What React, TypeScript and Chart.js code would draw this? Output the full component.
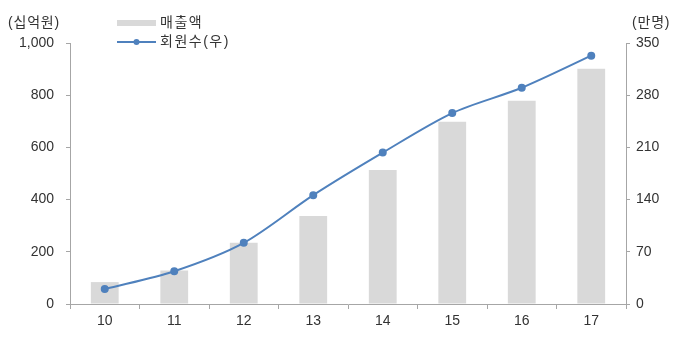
import React, { useEffect, useRef } from "react";
import { Chart, registerables } from "chart.js";

Chart.register(...registerables);

const categories = ["10", "11", "12", "13", "14", "15", "16", "17"];
const salesValues = [84, 128, 235, 337, 513, 698, 779, 901];
const memberValues = [20, 44, 82, 146, 203, 256, 290, 333];
const leftTicks = [0, 200, 400, 600, 800, 1000];
const rightTicks = [0, 70, 140, 210, 280, 350];
const salesLabel = "매출액";
const memberLabel = "회원수(우)";
const leftUnit = "(십억원)";
const rightUnit = "(만명)";

const FONT = "'Liberation Sans', Arial, 'Noto Sans CJK KR', sans-serif";
const BAR_COLOR = "#d9d9d9";
const LINE_COLOR = "#4f81bd";
const TEXT_COLOR = "#333333";
const AXIS_COLOR = "#a6a6a6";

const overlayPlugin = {
  id: "overlay",
  afterDraw(chart: any) {
    const ctx = chart.ctx;
    ctx.save();
    ctx.font = `14px ${FONT}`;
    ctx.fillStyle = TEXT_COLOR;
    ctx.textBaseline = "middle";
    ctx.textAlign = "left";
    ctx.letterSpacing = "0.8px";
    ctx.fillText(leftUnit, 8, 23);
    ctx.fillText(rightUnit, 632, 23);
    // legend
    ctx.fillStyle = BAR_COLOR;
    ctx.fillRect(117, 20, 39, 6);
    ctx.letterSpacing = "1.5px";
    ctx.fillStyle = TEXT_COLOR;
    ctx.fillText(salesLabel, 160, 23);
    ctx.strokeStyle = LINE_COLOR;
    ctx.lineWidth = 2;
    ctx.beginPath();
    ctx.moveTo(117, 42);
    ctx.lineTo(156, 42);
    ctx.stroke();
    ctx.fillStyle = LINE_COLOR;
    ctx.beginPath();
    ctx.arc(136.5, 42, 3, 0, Math.PI * 2);
    ctx.fill();
    ctx.fillStyle = TEXT_COLOR;
    ctx.fillText(memberLabel, 160, 42);
    ctx.restore();
  },
};

export default function App() {
  const ref = useRef<HTMLCanvasElement>(null);
  useEffect(() => {
    document.body.style.margin = "0";
    const chart = new Chart(ref.current!, {
      type: "bar",
      data: {
        labels: categories,
        datasets: [
          {
            type: "line",
            label: memberLabel,
            data: memberValues,
            yAxisID: "y2",
            borderColor: LINE_COLOR,
            backgroundColor: LINE_COLOR,
            borderWidth: 2,
            pointRadius: 3,
            pointHoverRadius: 3,
            tension: 0.3,
            order: 0,
          },
          {
            type: "bar",
            label: salesLabel,
            data: salesValues,
            yAxisID: "y",
            backgroundColor: BAR_COLOR,
            barPercentage: 0.4,
            categoryPercentage: 1,
            order: 1,
          },
        ],
      },
      options: {
        responsive: false,
        animation: false,
        layout: { padding: { top: 43, left: 0, right: 0, bottom: 0 } },
        plugins: { legend: { display: false }, tooltip: { enabled: false } },
        scales: {
          x: {
            offset: true,
            grid: {
              offset: true,
              drawOnChartArea: false,
              drawTicks: true,
              tickLength: 5,
              color: AXIS_COLOR,
            },
            border: { color: AXIS_COLOR },
            ticks: { color: TEXT_COLOR, font: { family: FONT, size: 14 }, padding: 4 },
            afterFit(scale: any) {
              scale.height = 35;
            },
          },
          y: {
            position: "left",
            min: 0,
            max: 1000,
            afterBuildTicks(scale: any) {
              scale.ticks = leftTicks.map((v) => ({ value: v }));
            },
            grid: { drawOnChartArea: false, tickLength: 4, color: AXIS_COLOR },
            border: { color: AXIS_COLOR },
            ticks: {
              color: TEXT_COLOR,
              font: { family: FONT, size: 14 },
              padding: 12,
              callback: (v: any) => Number(v).toLocaleString("en-US"),
            },
            afterFit(scale: any) {
              scale.width = 70;
            },
          },
          y2: {
            position: "right",
            min: 0,
            max: 350,
            afterBuildTicks(scale: any) {
              scale.ticks = rightTicks.map((v) => ({ value: v }));
            },
            grid: { drawOnChartArea: false, tickLength: 4, color: AXIS_COLOR },
            border: { color: AXIS_COLOR },
            ticks: { color: TEXT_COLOR, font: { family: FONT, size: 14 }, padding: 6 },
            afterFit(scale: any) {
              scale.width = 54;
            },
          },
        },
      },
      plugins: [overlayPlugin],
    });
    return () => chart.destroy();
  }, []);
  return (
    <div style={{ width: 680, height: 339 }}>
      <canvas ref={ref} width={680} height={339} />
    </div>
  );
}
